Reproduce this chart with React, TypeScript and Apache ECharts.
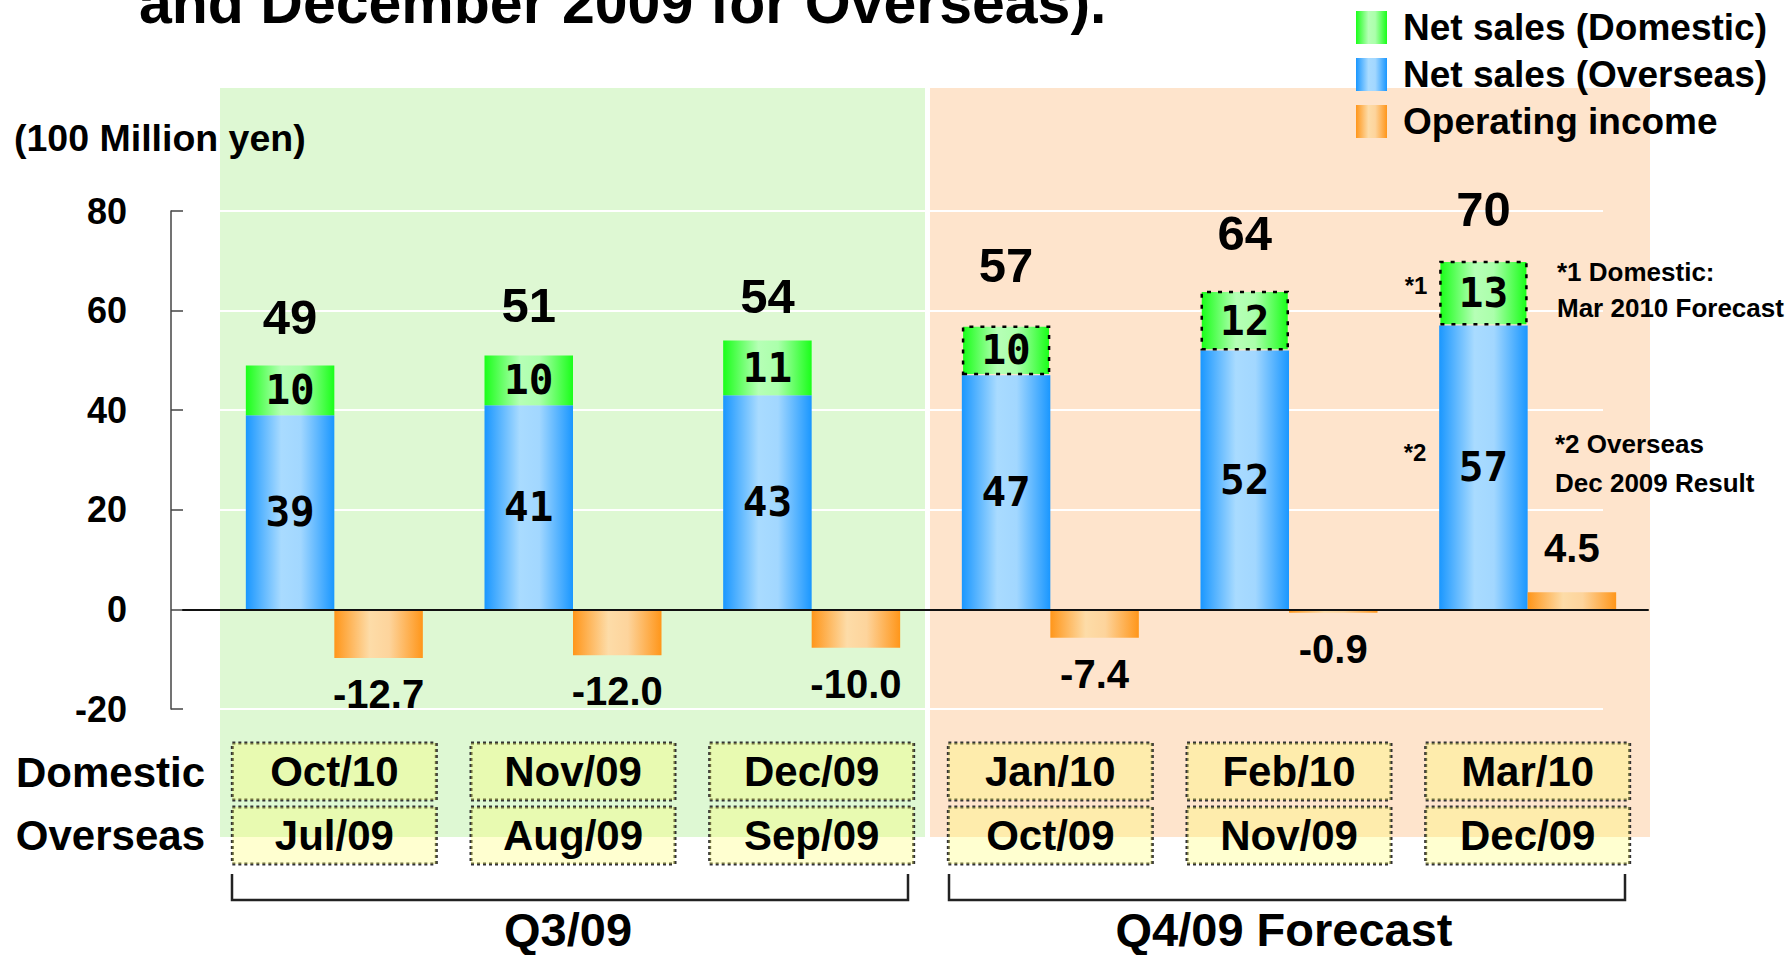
import React, { useEffect, useRef } from 'react';
import * as echarts from 'echarts';

const domesticMonths = ['Oct/10', 'Nov/09', 'Dec/09', 'Jan/10', 'Feb/10', 'Mar/10'];
const overseasMonths = ['Jul/09', 'Aug/09', 'Sep/09', 'Oct/09', 'Nov/09', 'Dec/09'];
const netSalesOverseas = [39, 41, 43, 47, 52, 57];
const netSalesDomestic = [10, 10, 11, 10, 12, 13];
const netSalesTotal = [49, 51, 54, 57, 64, 70];
const operatingIncome = [-12.7, -12.0, -10.0, -7.4, -0.9, 4.5];
const isForecast = [false, false, false, true, true, true];
const quarterLabels = ['Q3/09', 'Q4/09 Forecast'];
const legendNames = ['Net sales (Domestic)', 'Net sales (Overseas)', 'Operating income'];

const F = "'Liberation Sans', Arial, sans-serif";
const MONO = "'DejaVu Sans Mono', monospace";
const totalLabelDistance = [24, 26, 20, 36, 33, 27];

const grad = (edge: string, mid: string, mid2: string) =>
  new echarts.graphic.LinearGradient(0, 0, 1, 0, [
    { offset: 0, color: edge },
    { offset: 0.4, color: mid },
    { offset: 0.62, color: mid2 },
    { offset: 1, color: edge },
  ]);

export default function App() {
  const ref = useRef<HTMLDivElement>(null);
  useEffect(() => {
    if (!ref.current) return;
    const chart = echarts.init(ref.current, undefined, { renderer: 'svg' });
    const blue = grad('#1A97FF', '#A9DBFF', '#A2D7FF');
    const green = grad('#1AFF1A', '#B6FFB6', '#ABFFAB');
    const orange = grad('#FF961A', '#FDDCA8', '#FDD49C');
    const barW = 88.5;
    const top = 211;
    const height = 498;

    const boxLabel = {
      interval: 0,
      margin: 34,
      fontFamily: F,
      fontSize: 42,
      fontWeight: 'bold',
      color: '#000',
      backgroundColor: 'rgba(255,255,100,0.3)',
      borderColor: '#333',
      borderWidth: 1.5,
      borderType: 'dotted',
      width: 204,
      height: 57,
      lineHeight: 57,
      align: 'center',
      verticalAlign: 'top',
    };

    const txt = (text: string, x: number, y: number, size: number, align = 'left', z = 10) => ({
      type: 'text',
      x,
      y,
      z,
      silent: true,
      style: {
        text,
        fill: '#000',
        font: `bold ${size}px ${F}`,
        align,
        verticalAlign: 'middle',
      },
    });

    const option: any = {
      animation: false,
      backgroundColor: '#fff',
      legend: {
        data: legendNames,
        orient: 'vertical',
        left: 1351,
        top: 4,
        itemWidth: 31,
        itemHeight: 33,
        itemGap: 10,
        icon: 'rect',
        selectedMode: false,
        textStyle: { fontFamily: F, fontSize: 37, fontWeight: 'bold', color: '#000', padding: [0, 0, 0, 11] },
      },
      grid: [
        { left: 215, width: 1432, top, height },
        { left: 220, width: 1383, top, height },
        { left: 183, width: 1465, top, height },
      ],
      xAxis: [
        {
          type: 'category',
          gridIndex: 0,
          data: domesticMonths,
          position: 'bottom',
          axisLine: { show: false },
          axisTick: { show: false },
          axisLabel: boxLabel,
        },
        {
          type: 'category',
          gridIndex: 0,
          data: overseasMonths,
          position: 'bottom',
          offset: 64,
          axisLine: { show: false },
          axisTick: { show: false },
          axisLabel: boxLabel,
        },
        { type: 'value', gridIndex: 1, min: 0, max: 1, show: false },
        {
          type: 'value',
          gridIndex: 2,
          min: 0,
          max: 1,
          z: 5,
          axisLine: { show: true, onZero: true, lineStyle: { color: '#111', width: 2 } },
          axisTick: { show: false },
          axisLabel: { show: false },
          splitLine: { show: false },
        },
      ],
      yAxis: [
        { type: 'value', gridIndex: 0, min: -20, max: 80, interval: 20, show: false },
        { type: 'value', gridIndex: 0, min: -26, max: 104, show: false },
        {
          type: 'value',
          gridIndex: 1,
          min: -20,
          max: 80,
          interval: 20,
          axisLine: { show: false },
          axisTick: { show: false },
          axisLabel: { show: false },
          splitLine: { show: true, lineStyle: { color: '#fff', width: 2 } },
        },
        {
          type: 'value',
          gridIndex: 2,
          min: -20,
          max: 80,
          interval: 20,
          offset: 12,
          axisLine: { show: true, onZero: false, lineStyle: { color: '#444', width: 1.5 } },
          axisTick: { show: true, inside: true, length: 12, lineStyle: { color: '#444', width: 1.5 } },
          axisLabel: { margin: 44, fontFamily: F, fontSize: 36, fontWeight: 'bold', color: '#000' },
          splitLine: { show: false },
        },
      ],
      series: [
        {
          name: 'Net sales (Overseas)',
          type: 'bar',
          xAxisIndex: 0,
          yAxisIndex: 0,
          stack: 'sales',
          barWidth: barW,
          barGap: '0%',
          itemStyle: { color: blue },
          label: { show: true, position: 'inside', fontFamily: MONO, fontSize: 41, fontWeight: 'bold', color: '#000' },
          data: netSalesOverseas,
        },
        {
          name: 'Net sales (Domestic)',
          type: 'bar',
          xAxisIndex: 0,
          yAxisIndex: 0,
          stack: 'sales',
          barWidth: barW,
          barGap: '0%',
          itemStyle: { color: green },
          label: { show: true, position: 'inside', fontFamily: MONO, fontSize: 41, fontWeight: 'bold', color: '#000' },
          data: netSalesDomestic.map((v, i) =>
            isForecast[i]
              ? { value: v, itemStyle: { borderColor: '#000', borderWidth: 2.5, borderType: [4, 7] } }
              : v
          ),
        },
        {
          name: 'total',
          type: 'bar',
          xAxisIndex: 0,
          yAxisIndex: 0,
          stack: 'sales',
          barWidth: barW,
          barGap: '0%',
          itemStyle: { color: 'transparent' },
          label: {
            show: true,
            position: 'top',
            fontFamily: F,
            fontSize: 49,
            fontWeight: 'bold',
            color: '#000',
            formatter: (p: any) => String(netSalesTotal[p.dataIndex]),
          },
          data: netSalesTotal.map((_, i) => ({ value: 0, label: { distance: totalLabelDistance[i] } })),
        },
        {
          name: 'Operating income',
          type: 'bar',
          xAxisIndex: 0,
          yAxisIndex: 1,
          barWidth: barW,
          barGap: '0%',
          itemStyle: { color: orange },
          label: {
            show: true,
            fontFamily: F,
            fontSize: 40,
            fontWeight: 'bold',
            color: '#000',
            formatter: (p: any) => Number(p.value).toFixed(1),
          },
          data: operatingIncome.map((v) => ({
            value: v,
            label: v < 0 ? { position: 'bottom', distance: 16 } : { position: 'top', distance: 24 },
          })),
        },
      ],
      graphic: [
        { type: 'rect', z: -10, silent: true, shape: { x: 220, y: 88, width: 705, height: 749 }, style: { fill: '#DEF8D3' } },
        { type: 'rect', z: -10, silent: true, shape: { x: 930, y: 88, width: 720, height: 749 }, style: { fill: '#FEE4CC' } },
        txt('and December 2009 for Overseas).', 139, 3, 59),
        txt('(100 Million yen)', 14, 138, 37.5),
        txt('Domestic', 205, 772, 42, 'right'),
        txt('Overseas', 205, 835, 42, 'right'),
        {
          type: 'polyline',
          silent: true,
          shape: { points: [[232, 874], [232, 900], [908, 900], [908, 874]] },
          style: { stroke: '#222', lineWidth: 2.5, fill: null },
        },
        {
          type: 'polyline',
          silent: true,
          shape: { points: [[949, 874], [949, 900], [1625, 900], [1625, 874]] },
          style: { stroke: '#222', lineWidth: 2.5, fill: null },
        },
        txt(quarterLabels[0], 568, 929, 47, 'center'),
        txt(quarterLabels[1], 1284, 929, 47, 'center'),
        txt('*1', 1416, 285, 24, 'center'),
        txt('*2', 1415, 452, 24, 'center'),
        txt('*1 Domestic:', 1557, 272, 26),
        txt('Mar 2010 Forecast', 1557, 308, 26),
        txt('*2 Overseas', 1555, 444, 26),
        txt('Dec 2009 Result', 1555, 483, 26),
      ],
    };
    chart.setOption(option);
    return () => chart.dispose();
  }, []);
  return <div ref={ref} style={{ position: 'fixed', left: 0, top: 0, width: 1791, height: 955 }} />;
}
